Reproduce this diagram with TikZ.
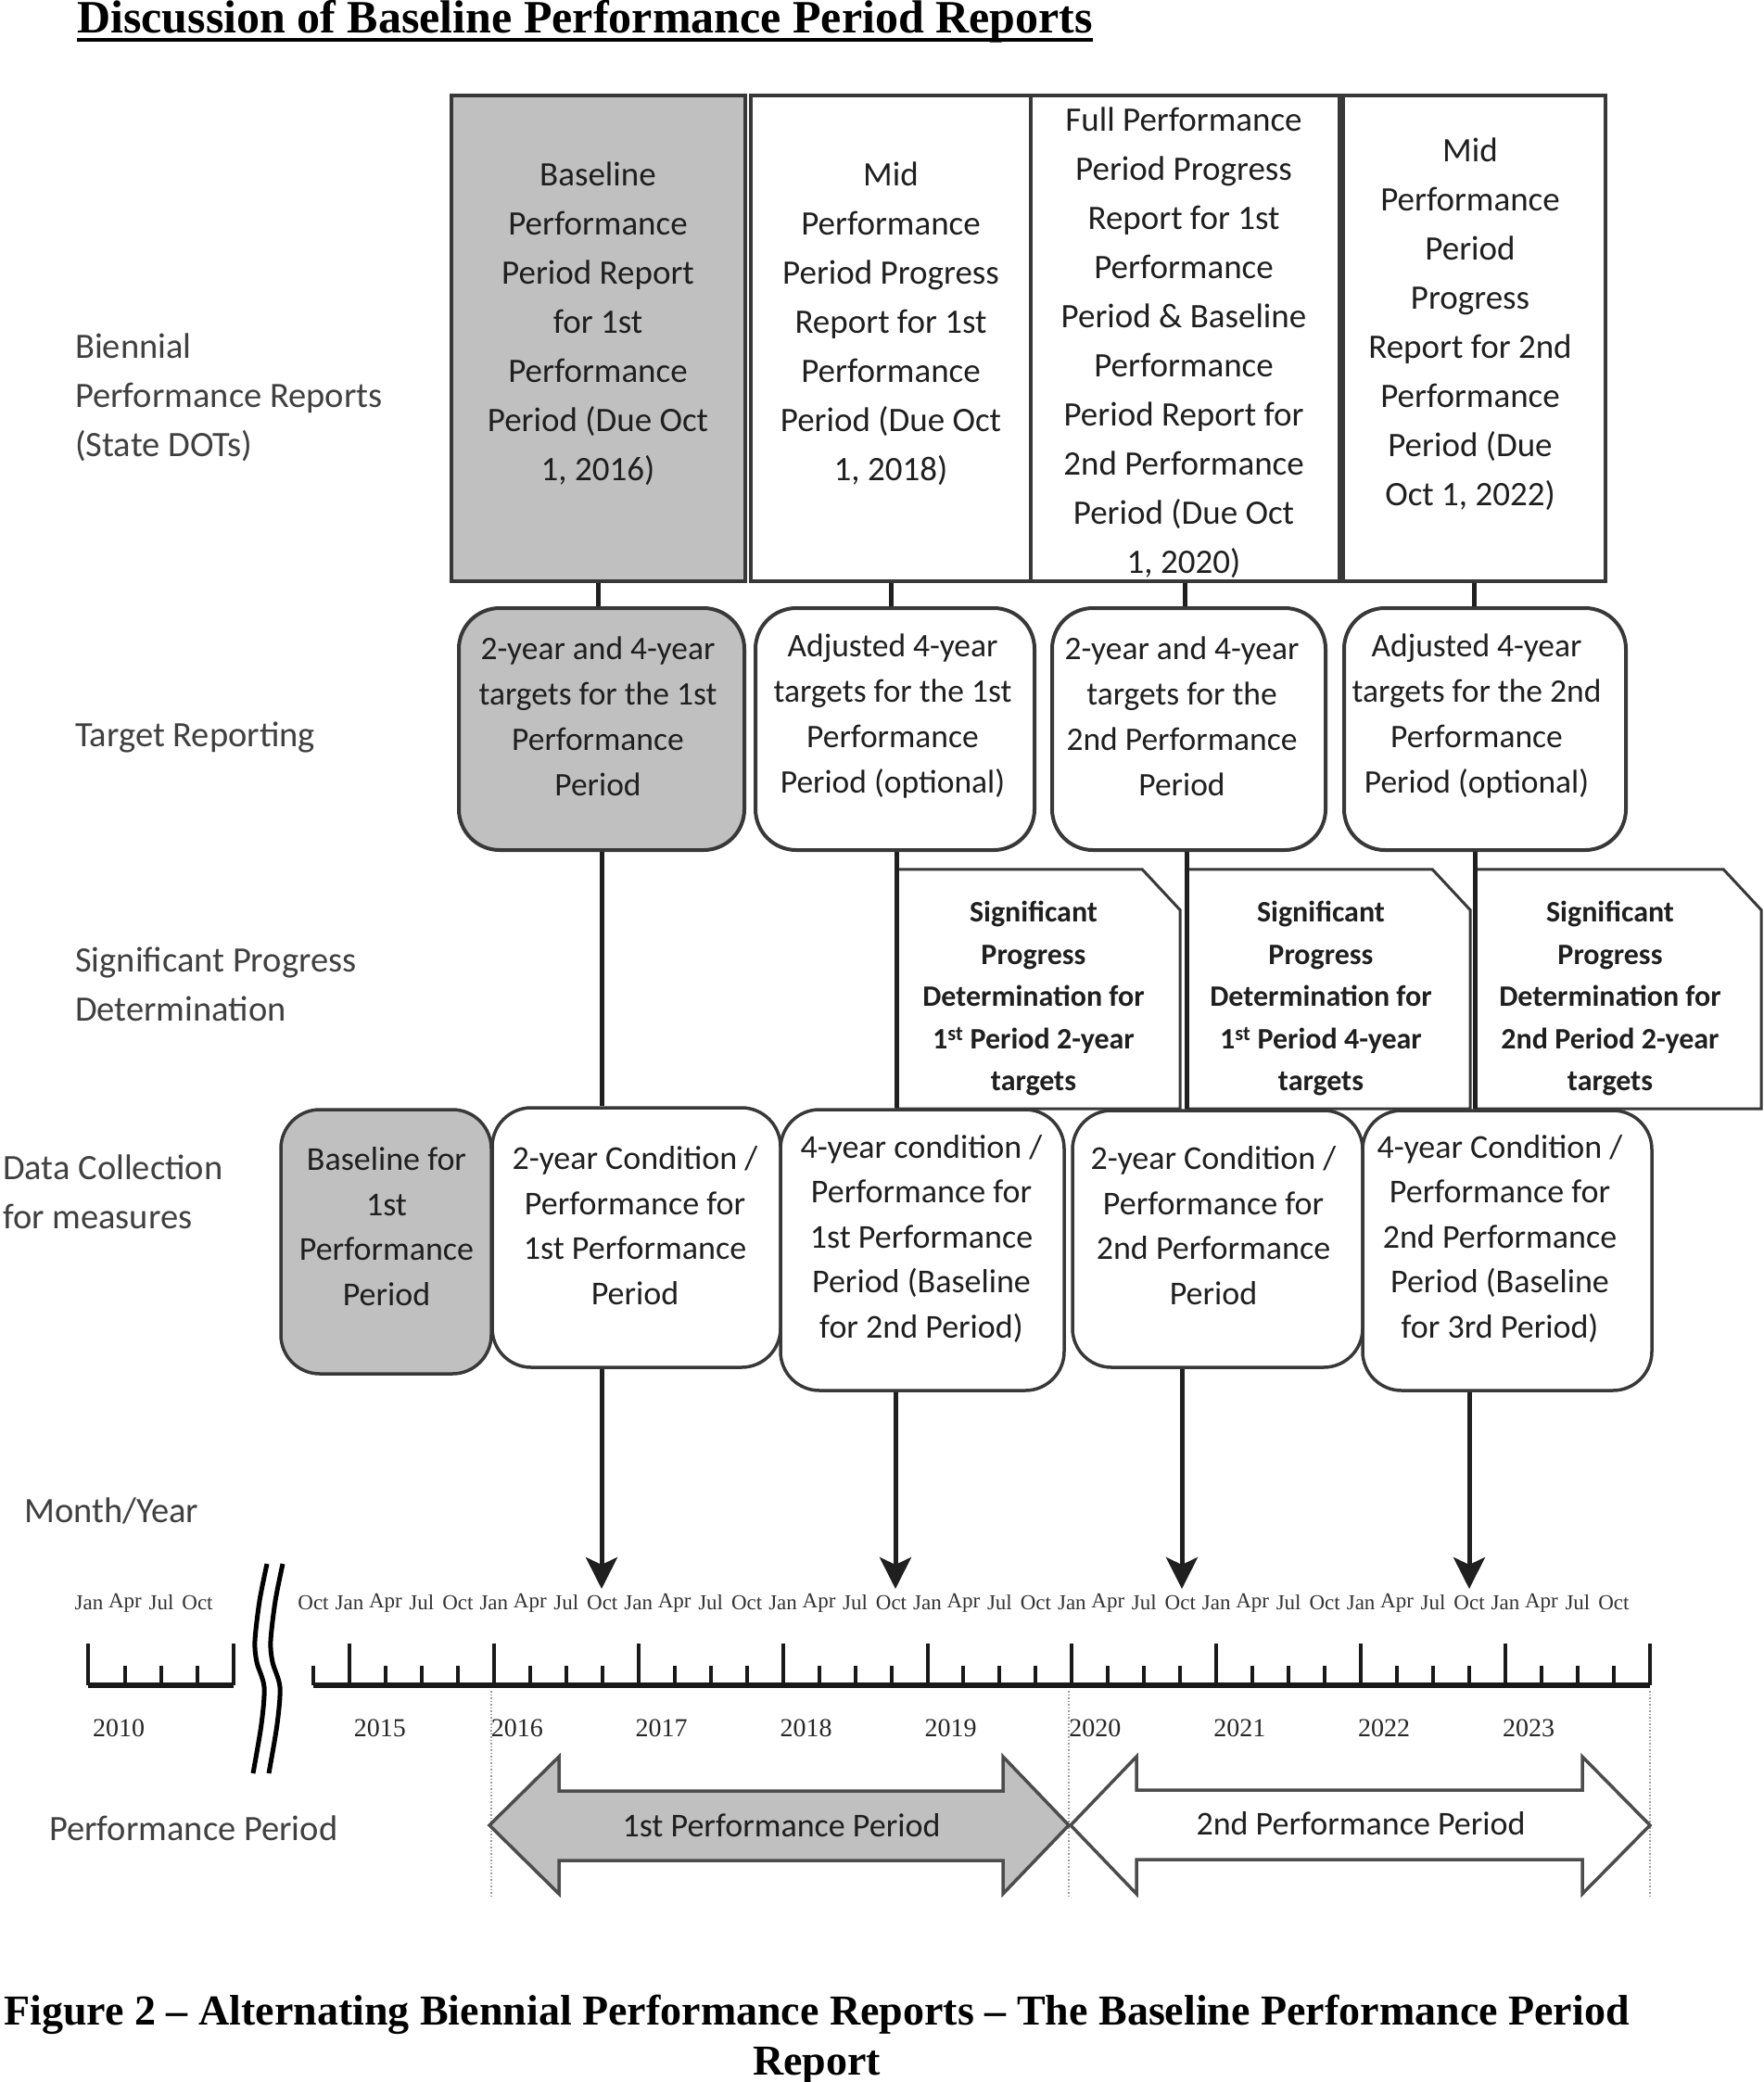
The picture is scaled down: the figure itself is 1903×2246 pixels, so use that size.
\documentclass[tikz,border=0pt]{standalone}
\usepackage{fontspec}
\setmainfont{Liberation Serif}
\newfontfamily\calfont{Carlito}
\usetikzlibrary{arrows.meta}
\definecolor{boxgray}{HTML}{C0C0C0}
\begin{document}
\begin{tikzpicture}[x=1pt,y=-1pt,
  edgecol/.style={draw=black!78},
  repbox/.style={edgecol, line width=4.5pt, inner sep=0pt},
  tgtbox/.style={edgecol, line width=4pt, rounded corners=44pt, inner sep=0pt},
  datbox/.style={edgecol, line width=3.5pt, rounded corners=42pt, inner sep=0pt},
  sigframe/.style={draw=black!78, line width=3pt, line join=miter},
  shaded/.style={fill=boxgray},
  conn/.style={draw=black!88, line width=5pt},
  downarrow/.style={conn, -{Stealth[length=34pt,width=34pt,inset=8pt]}},
  txt/.style={inner sep=0pt, align=center, text=black!88},
  reptext/.style={txt, font=\calfont\fontsize{37}{53}\selectfont},
  tgttext/.style={txt, font=\calfont\fontsize{35.5}{49}\selectfont},
  sigtext/.style={txt, font=\calfont\bfseries\fontsize{32}{45.5}\selectfont},
  dattext/.style={txt, font=\calfont\fontsize{36}{48.5}\selectfont},
  rowlab/.style={inner sep=0pt, anchor=west, align=left, text=black!75, font=\calfont\fontsize{38.5}{53}\selectfont},
  monthlab/.style={inner sep=0pt, font=\fontsize{23}{26}\selectfont, text=black!80},
  yearlab/.style={inner sep=0pt, font=\fontsize{28}{30}\selectfont, text=black!85},
  axtick/.style={draw=black!90, line width=4pt},
  axisline/.style={draw=black!90, line width=6pt},
  brk/.style={draw=black, line width=5pt},
  guide/.style={draw=black!40, line width=1.5pt, dotted},
  perarrow/.style={draw=black!70, line width=3.5pt, line join=miter},
  perlab/.style={inner sep=0pt, font=\calfont\fontsize{36}{40}\selectfont, text=black!88},
]
\useasboundingbox (0,0) rectangle (1903,2246);
\fill[white] (0,0) rectangle (1903,2246);

% Title
\node[inner sep=0pt, anchor=base west, font=\bfseries\fontsize{50}{56}\selectfont] (title) at (83,35) {Discussion of Baseline Performance Period Reports};
\draw[line width=4.5pt] ([yshift=-8pt]title.base west) -- ([yshift=-8pt]title.base east);

% Row labels
\node[rowlab] (L1) at (81,429) {Biennial\\Performance Reports\\(State DOTs)};
\node[rowlab] (L2) at (81,795) {Target Reporting};
\node[rowlab] (L3) at (81,1062) {Significant Progress\\Determination};
\node[rowlab] (L4) at (3,1286) {Data Collection\\for measures};
\node[rowlab] (L5) at (26,1630) {Month/Year};
\node[rowlab] (L6) at (53,1972) {Performance Period};

% Row 1: report boxes
\node[repbox, shaded, minimum width=317pt, minimum height=524pt] (R1a) at (645.5,365) {};
\node[repbox, minimum width=302pt, minimum height=524pt] (R1b) at (961,365) {};
\node[repbox, minimum width=333pt, minimum height=524pt] (R1c) at (1278.5,365) {};
\node[repbox, minimum width=283pt, minimum height=524pt] (R1d) at (1590.5,365) {};

% Row 2: target boxes
\node[tgtbox, shaded, minimum width=308pt, minimum height=261pt] (R2a) at (649,786.5) {};
\node[tgtbox, minimum width=301pt, minimum height=261pt] (R2b) at (965.5,786.5) {};
\node[tgtbox, minimum width=295pt, minimum height=261pt] (R2c) at (1282.5,786.5) {};
\node[tgtbox, minimum width=304pt, minimum height=261pt] (R2d) at (1602,786.5) {};

% Row 3: significant progress boxes (snipped corner)
\node[inner sep=0pt, minimum width=306pt, minimum height=258pt] (R3a) at (1120,1067) {};
\node[inner sep=0pt, minimum width=306pt, minimum height=258pt] (R3b) at (1433,1067) {};
\node[inner sep=0pt, minimum width=309pt, minimum height=258pt] (R3c) at (1745.5,1067) {};
\foreach \n in {R3a,R3b,R3c}{
  \draw[sigframe, fill=white] (\n.north west) -- ([xshift=-41pt]\n.north east) -- ([yshift=-44pt]\n.north east) -- (\n.south east) -- (\n.south west) -- cycle;
}

% Row 4: data collection boxes
\node[datbox, shaded, minimum width=227pt, minimum height=285pt] (R4a) at (416.5,1339.5) {};
\node[datbox, minimum width=311pt, minimum height=280pt] (R4b) at (686.5,1335) {};
\node[datbox, minimum width=306pt, minimum height=303pt] (R4c) at (995,1348.5) {};
\node[datbox, minimum width=313pt, minimum height=277pt] (R4d) at (1313.5,1336.5) {};
\node[datbox, minimum width=312pt, minimum height=302pt] (R4e) at (1626,1349) {};

% Connectors row 1 -> row 2
\draw[conn] (R1a.south) -- (R1a.south |- R2a.north);
\draw[conn] (R1b.south) -- (R1b.south |- R2b.north);
\draw[conn] (R1c.south) -- (R1c.south |- R2c.north);
\draw[conn] (R1d.south) -- (R1d.south |- R2d.north);

% Connectors row 2 -> row 4
\coordinate (c1) at (649,0);
\coordinate (c2) at (967,0);
\coordinate (c3) at (1280,0);
\coordinate (c4) at (1591,0);
\draw[conn] (c1 |- R2a.south) -- (c1 |- R4b.north);
\draw[conn] (c2 |- R2b.south) -- (c2 |- R4c.north);
\draw[conn] (c3 |- R2c.south) -- (c3 |- R4d.north);
\draw[conn] (c4 |- R2d.south) -- (c4 |- R4e.north);

% Arrows row 4 -> timeline
\coordinate (a1) at (649,1714);
\coordinate (a2) at (966,1714);
\coordinate (a3) at (1275,1714);
\coordinate (a4) at (1585,1714);
\draw[downarrow] (a1 |- R4b.south) -- (a1);
\draw[downarrow] (a2 |- R4c.south) -- (a2);
\draw[downarrow] (a3 |- R4d.south) -- (a3);
\draw[downarrow] (a4 |- R4e.south) -- (a4);

% Texts row 1
\node[reptext] (T1a) at (645,349) {Baseline\\Performance\\Period Report\\for 1st\\Performance\\Period (Due Oct\\1, 2016)};
\node[reptext] (T1b) at (961,349) {Mid\\Performance\\Period Progress\\Report for 1st\\Performance\\Period (Due Oct\\1, 2018)};
\node[reptext] (T1c) at (1277,370) {Full Performance\\Period Progress\\Report for 1st\\Performance\\Period \& Baseline\\Performance\\Period Report for\\2nd Performance\\Period (Due Oct\\1, 2020)};
\node[reptext] (T1d) at (1586,350) {Mid\\Performance\\Period\\Progress\\Report for 2nd\\Performance\\Period (Due\\Oct 1, 2022)};

% Texts row 2
\node[tgttext] (T2a) at (645,773) {2-year and 4-year\\targets for the 1st\\Performance\\Period};
\node[tgttext] (T2b) at (963,773) {Adjusted 4-year\\targets for the 1st\\Performance\\Period (optional)};
\node[tgttext] (T2c) at (1275,773) {2-year and 4-year\\targets for the\\2nd Performance\\Period};
\node[tgttext] (T2d) at (1593,773) {Adjusted 4-year\\targets for the 2nd\\Performance\\Period (optional)};

% Texts row 3
\node[sigtext] (T3a) at (1115,1077) {Significant\\Progress\\Determination for\\1\textsuperscript{st} Period 2-year\\targets};
\node[sigtext] (T3b) at (1425,1077) {Significant\\Progress\\Determination for\\1\textsuperscript{st} Period 4-year\\targets};
\node[sigtext] (T3c) at (1737,1077) {Significant\\Progress\\Determination for\\2nd Period 2-year\\targets};

% Texts row 4
\node[dattext] (T4a) at (417,1323) {Baseline for\\1st\\Performance\\Period};
\node[dattext] (T4b) at (685,1322) {2-year Condition /\\Performance for\\1st Performance\\Period};
\node[dattext] (T4c) at (994,1336) {4-year condition /\\Performance for\\1st Performance\\Period (Baseline\\for 2nd Period)};
\node[dattext] (T4d) at (1309,1322) {2-year Condition /\\Performance for\\2nd Performance\\Period};
\node[dattext] (T4e) at (1618,1336) {4-year Condition /\\Performance for\\2nd Performance\\Period (Baseline\\for 3rd Period)};

% Timeline: mini axis (2010)
\draw[axisline] (95,1818) -- (252,1818);
\draw[axtick] (95,1818) -- (95,1773);
\draw[axtick] (252,1818) -- (252,1773);
\foreach \xx in {135,174,213}{\draw[axtick] (\xx,1818) -- (\xx,1797);}
\node[monthlab] (mm1) at (96,1729) {Jan};
\node[monthlab] (mm2) at (135,1729) {Apr};
\node[monthlab] (mm3) at (174,1729) {Jul};
\node[monthlab] (mm4) at (213,1729) {Oct};
\node[yearlab] (y2010) at (128,1864) {2010};

% Break symbol
\draw[brk] plot[smooth] coordinates {(288,1687) (280,1727) (275,1770) (277,1793) (285,1820) (282,1860) (273,1913)};
\draw[brk] plot[smooth] coordinates {(305,1687) (297,1727) (292,1770) (294,1793) (302,1820) (299,1860) (290,1913)};

% Main axis
\draw[axisline] (338,1818) -- (1780,1818);
\foreach \k in {0,...,37}{
  \pgfmathsetmacro\xx{338+38.97*\k}
  \pgfmathtruncatemacro\m{mod(\k,4)}
  \ifnum\m=1
    \draw[axtick] (\xx,1818) -- (\xx,1773);
  \else
    \draw[axtick] (\xx,1818) -- (\xx,1797);
  \fi
}
\foreach \k in {0,...,36}{
  \pgfmathsetmacro\xx{338+38.97*\k}
  \pgfmathtruncatemacro\m{mod(\k,4)}
  \node[monthlab] (m\k) at (\xx,1729) {\ifcase\m Oct\or Jan\or Apr\or Jul\fi};
}
\foreach \j in {0,...,8}{
  \pgfmathsetmacro\xx{338+38.97*(1+4*\j)+25+(\j==0)*8}
  \pgfmathtruncatemacro\yy{2015+\j}
  \node[yearlab] (y\yy) at (\xx,1864) {\yy};
}

% Guide lines
\foreach \xx in {530,1153,1780}{\draw[guide] (\xx,1824) -- (\xx,2047);}

% Performance period arrows
\draw[perarrow, fill=boxgray] (528,1969) -- (603,1895) -- (603,1932) -- (1082,1932) -- (1082,1895) -- (1153,1969) -- (1082,2043) -- (1082,2007) -- (603,2007) -- (603,2043) -- cycle;
\draw[perarrow, fill=white] (1155,1969) -- (1226,1895) -- (1226,1931) -- (1707,1931) -- (1707,1895) -- (1780,1969) -- (1707,2043) -- (1707,2006) -- (1226,2006) -- (1226,2043) -- cycle;
\node[perlab] (P1) at (843,1969) {1st Performance Period};
\node[perlab] (P2) at (1468,1967) {2nd Performance Period};

% Caption
\node[inner sep=0pt, align=center, font=\bfseries\fontsize{46}{54}\selectfont] (cap) at (881,2200) {Figure 2 -- Alternating Biennial Performance Reports -- The Baseline Performance Period\\Report};
\end{tikzpicture}
\end{document}
